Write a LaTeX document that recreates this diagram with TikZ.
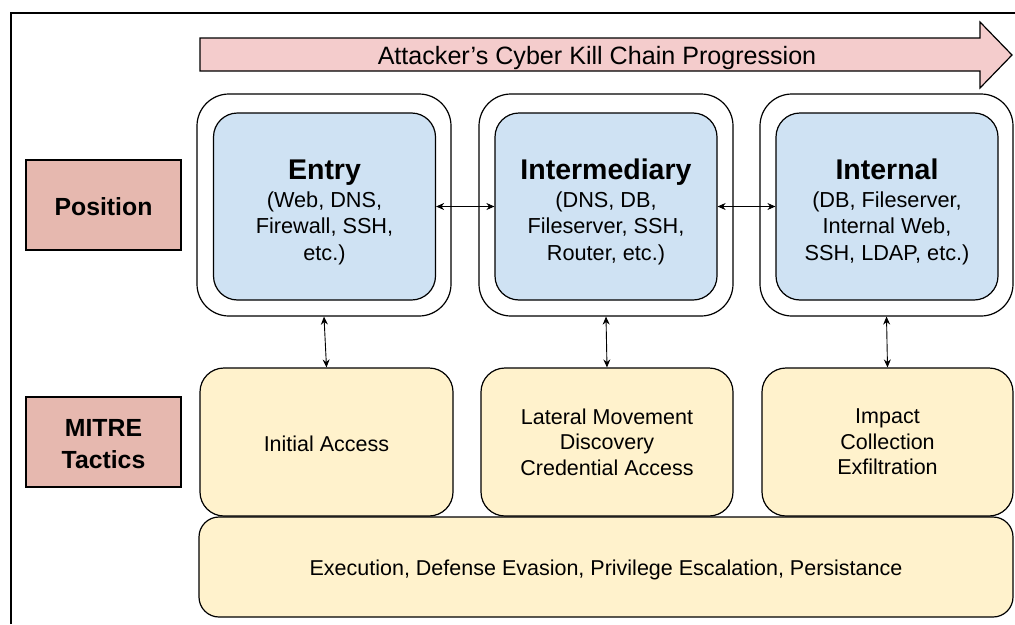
\documentclass[tikz,border=0pt]{standalone}
\usepackage{fontspec}
\setmainfont{Liberation Sans}
\usetikzlibrary{arrows.meta}
\definecolor{blueF}{HTML}{CFE2F3}
\definecolor{yelF}{HTML}{FFF2CC}
\definecolor{pinkF}{HTML}{F4CCCC}
\definecolor{posF}{HTML}{E6B8AF}
\newcommand{\hdfont}{\fontsize{28.5}{34}\selectfont\bfseries}
\newcommand{\toppad}{\rule{0pt}{31pt}}
\newcommand{\lowerby}[2]{\raisebox{-#1}[\height][\depth]{#2}}
\begin{document}
\begin{tikzpicture}[x=1pt,y=-1pt,
  box/.style={draw=black, line width=1.2pt, inner sep=0pt, align=center},
  label/.style={box, fill=posF, minimum width=155pt, minimum height=90pt, font=\fontsize{24.8}{30}\selectfont\bfseries},
  outerbox/.style={box, fill=white, rounded corners=32pt, minimum height=222pt},
  innerbox/.style={box, fill=blueF, rounded corners=24pt, minimum height=187pt, minimum width=222pt, font=\fontsize{21.7}{26.5}\selectfont},
  tacbox/.style={box, fill=yelF, rounded corners=24pt, minimum height=148pt, font=\fontsize{21.5}{25.5}\selectfont},
  link/.style={line width=0.9pt, {Stealth[length=8pt,width=7pt]}-{Stealth[length=8pt,width=7pt]}}
]
\useasboundingbox (0,0) rectangle (1015,624);
\draw[line width=1.2pt] (11,624) -- (11,13) -- (1015,13);
% progression arrow
\draw[line width=1.2pt, fill=pinkF] (200,38) -- (980,38) -- (980,22) -- (1012,55) -- (980,88) -- (980,71) -- (200,71) -- cycle;
\node[font=\fontsize{25.1}{30}\selectfont] (title) at (597,58.5) {Attacker’s Cyber Kill Chain Progression};
% row labels
\node[label] (pos) at (103.5,205) {\lowerby{2pt}{Position}};
\node[label] (mitre) at (103.5,442) {\rule{0pt}{21pt}MITRE\\[1.5pt]Tactics};
% outer boxes
\node[outerbox, minimum width=254pt] (entryO) at (324,205) {};
\node[outerbox, minimum width=254pt] (interO) at (606,205) {};
\node[outerbox, minimum width=253pt] (internO) at (886.5,205) {};
% inner boxes
\node[innerbox] (entry) at (324.5,206.5) {\toppad{\hdfont Entry}\\[1pt](Web, DNS,\\Firewall, SSH,\\etc.)};
\node[innerbox] (inter) at (606,206.5) {\toppad{\hdfont Intermediary}\\[1pt](DNS, DB,\\Fileserver, SSH,\\Router, etc.)};
\node[innerbox] (intern) at (887,206.5) {\toppad{\hdfont Internal}\\[1pt](DB, Fileserver,\\Internal Web,\\SSH, LDAP, etc.)};
% tactics
\node[tacbox, minimum width=253pt] (t1) at (326.5,442) {\lowerby{2pt}{Initial Access}};
\node[tacbox, minimum width=252pt] (t2) at (607,442) {Lateral Movement\\Discovery\\Credential Access};
\node[tacbox, minimum width=251pt] (t3) at (887.5,442) {Impact\\Collection\\Exfiltration};
\node[box, fill=yelF, rounded corners=20pt, minimum width=814pt, minimum height=100pt, font=\fontsize{21.5}{26}\selectfont] (common) at (606,567) {\lowerby{3pt}{Execution, Defense Evasion, Privilege Escalation, Persistance}};
% connectors
\draw[link] (entry.east) -- (inter.west);
\draw[link] (inter.east) -- (intern.west);
\draw[link] (entryO.south) -- (t1.north);
\draw[link] (interO.south) -- (t2.north);
\draw[link] (internO.south) -- (t3.north);
\end{tikzpicture}
\end{document}
